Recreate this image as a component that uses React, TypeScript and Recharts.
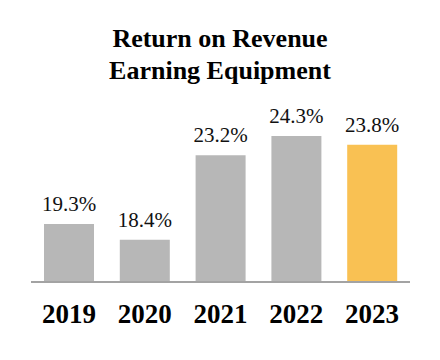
import React from 'react';
import { BarChart, Bar, XAxis, YAxis, LabelList, Cell } from 'recharts';

const years = ['2019', '2020', '2021', '2022', '2023'];
const returns = [19.3, 18.4, 23.2, 24.3, 23.8];
const barColors = ['#b7b7b7', '#b7b7b7', '#b7b7b7', '#b7b7b7', '#f9c153'];

const data = years.map((year, i) => ({ year, value: returns[i] }));

const serif = '"Liberation Serif", "Times New Roman", serif';

export default function App() {
    return (
        <div style={{ position: 'relative', width: 440, height: 360, background: '#fff' }}>
            <style>{'body { margin: 0; }'}</style>
            <div
                style={{
                    position: 'absolute',
                    top: 23,
                    left: 0,
                    width: 440,
                    textAlign: 'center',
                    fontFamily: serif,
                    fontWeight: 'bold',
                    fontSize: 26,
                    lineHeight: '32px',
                    color: '#000',
                }}
            >
                Return on Revenue
                <br />
                Earning Equipment
            </div>
            <BarChart
                width={440}
                height={360}
                data={data}
                margin={{ top: 106, right: 30, left: 31, bottom: 28 }}
            >
                <XAxis
                    dataKey="year"
                    height={50}
                    tickLine={false}
                    tickMargin={16}
                    axisLine={{ stroke: '#a3a3a3', strokeWidth: 2 }}
                    tick={{ fill: '#000', fontFamily: serif, fontWeight: 'bold', fontSize: 27 }}
                    interval={0}
                />
                <YAxis hide domain={[16, 26]} allowDataOverflow />
                <Bar dataKey="value" barSize={50} isAnimationActive={false}>
                    {data.map((d, i) => (
                        <Cell key={d.year} fill={barColors[i]} />
                    ))}
                    <LabelList
                        dataKey="value"
                        position="top"
                        offset={13}
                        formatter={(v: number) => `${v.toFixed(1)}%`}
                        style={{ fill: '#111', fontFamily: serif, fontSize: 21 }}
                    />
                </Bar>
            </BarChart>
        </div>
    );
}
